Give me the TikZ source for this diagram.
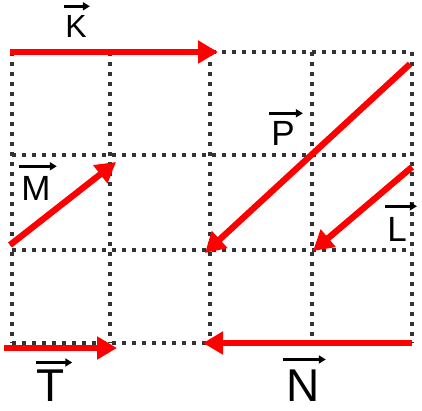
\documentclass[tikz,border=0pt]{standalone}
\usepackage{fontspec}
\setmainfont{Liberation Sans}
\usetikzlibrary{arrows.meta}
\definecolor{VecRed}{HTML}{FF0000}

\begin{document}
\begin{tikzpicture}[x=1pt, y=-1pt,
    gridline/.style={draw=black!80, line width=3.6pt, dash pattern=on 3.6pt off 6.4pt},
    vecarr/.style={draw=VecRed, line width=6.3pt, -{Triangle[length=20pt,width=22pt]}},
    lblarr/.style={draw=black, line width=2.8pt, -{Triangle[length=7pt,width=8pt]}},
    lbl/.style={font=\fontsize{35}{37}\selectfont, inner sep=0pt},
    biglbl/.style={font=\fontsize{46}{48}\selectfont, inner sep=0pt}
  ]
    \useasboundingbox (0,0) rectangle (422,410);

    % dotted grid
    \foreach \gx in {12,110,210,312,412}
      \draw[gridline] (\gx,52) -- (\gx,343);
    \foreach \gy in {52,155,250,343}
      \draw[gridline] (12,\gy) -- (412,\gy);

    % end points of the vectors
    \coordinate (k0) at (10,52);
    \coordinate (k1) at (218,52);
    \coordinate (m0) at (10,245);
    \coordinate (m1) at (116,162);
    \coordinate (p0) at (410,64);
    \coordinate (p1) at (205,253);
    \coordinate (l0) at (412,167);
    \coordinate (l1) at (313,251);
    \coordinate (t0) at (4,348);
    \coordinate (t1) at (117,348);
    \coordinate (n0) at (412,343);
    \coordinate (n1) at (203,343);

    \draw[vecarr] (k0) -- (k1);
    \draw[vecarr] (m0) -- (m1);
    \draw[vecarr] (p0) -- (p1);
    \draw[vecarr] (l0) -- (l1);
    \draw[vecarr] (t0) -- (t1);
    \draw[vecarr] (n0) -- (n1);

    % labels with their small arrows
    \node[lbl, font=\fontsize{32}{34}\selectfont] (kl) at (76,26.5) {K};
    \node[lbl] (ml) at (36,188.5) {M};
    \node[lbl] (pl) at (283,133.5) {P};
    \node[lbl] (ll) at (397,229.5) {L};
    \node[biglbl] (tl) at (51,385.5) {T};
    \node[biglbl] (nl) at (303,385.5) {N};

    \draw[lblarr] ([xshift=-1pt,yshift=9pt]kl.north west) -- ([xshift=3pt,yshift=9pt]kl.north east);
    \draw[lblarr] ([xshift=-2pt,yshift=10pt]ml.north west) -- ([xshift=6pt,yshift=10pt]ml.north east);
    \draw[lblarr] ([xshift=-2pt,yshift=8pt]pl.north west) -- ([xshift=8pt,yshift=8pt]pl.north east);
    \draw[lblarr] ([xshift=-2pt,yshift=11pt]ll.north west) -- ([xshift=10pt,yshift=11pt]ll.north east);
    \draw[lblarr] ([xshift=-1pt,yshift=7pt]tl.north west) -- ([xshift=7pt,yshift=7pt]tl.north east);
    \draw[lblarr] ([xshift=-3pt,yshift=10pt]nl.north west) -- ([xshift=6pt,yshift=10pt]nl.north east);
  \end{tikzpicture}
\end{document}
